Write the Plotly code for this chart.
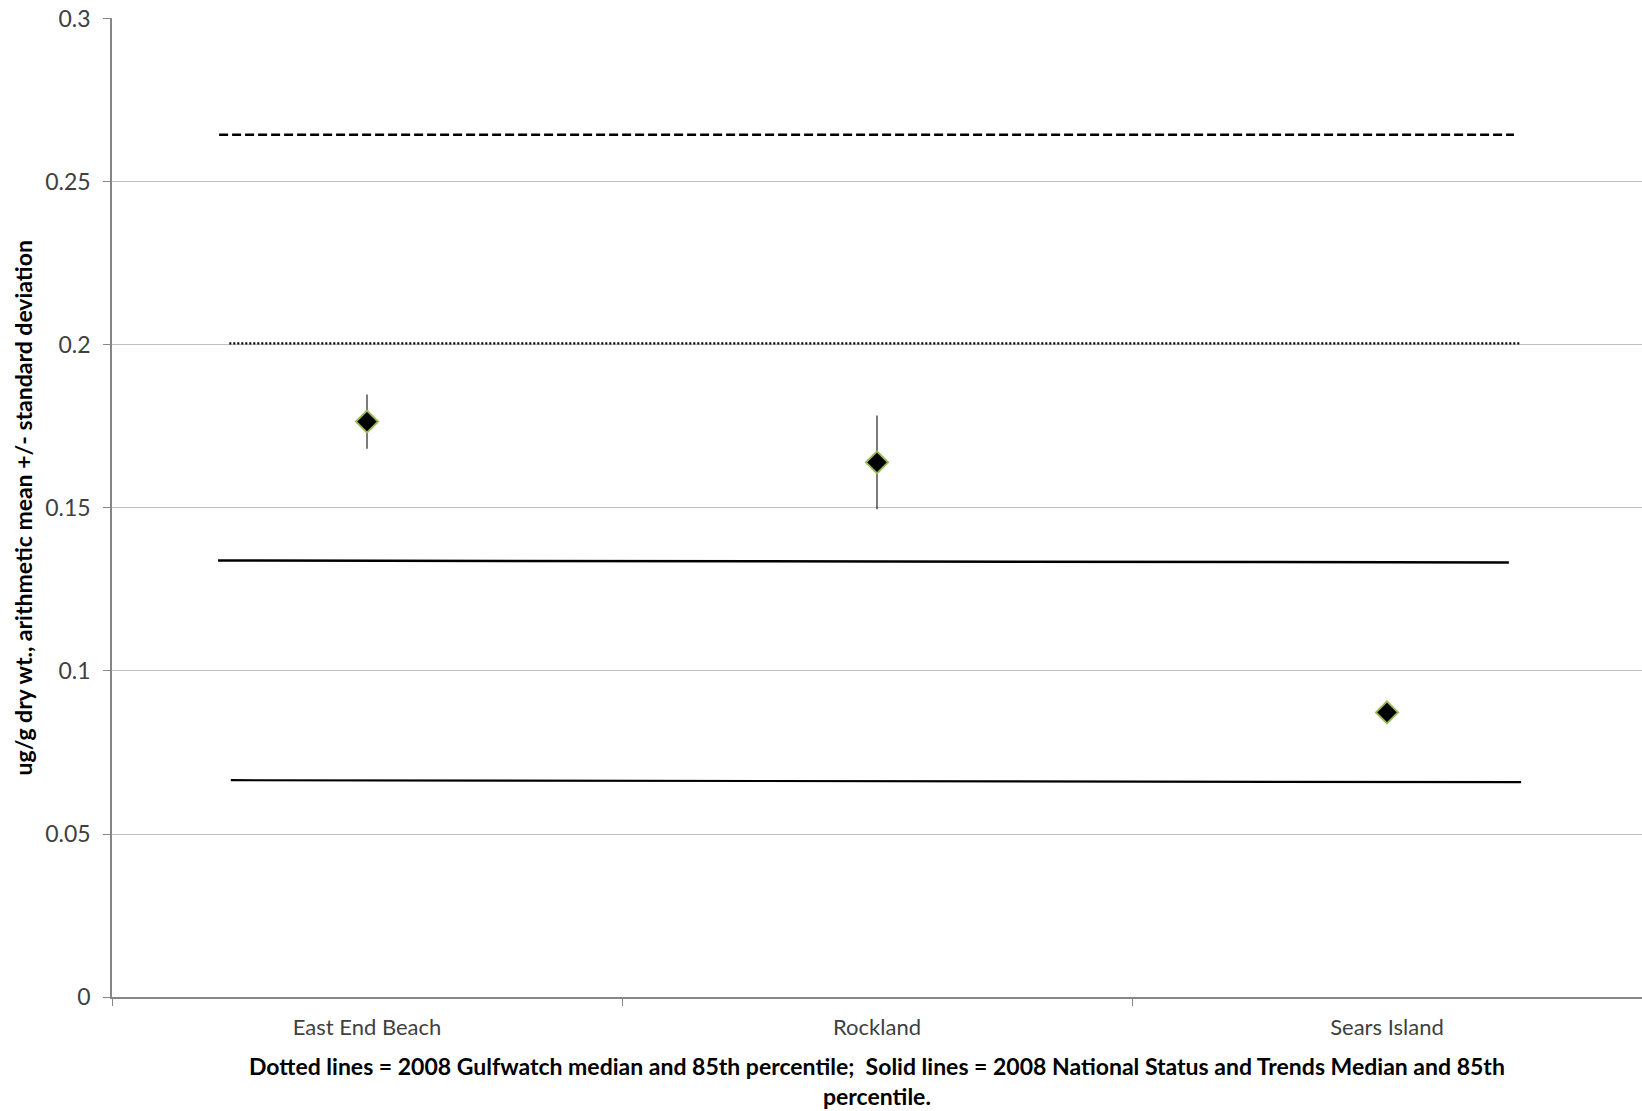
import plotly.graph_objects as go

# ---- data ----
sites = ["East End Beach", "Rockland", "Sears Island"]
means = [0.1765, 0.164, 0.0873]
sds = [0.0083, 0.0144, 0.0]

# reference lines (value at left end, value at right end)
ref_names = ["Gulfwatch 85th", "Gulfwatch median", "NS&T 85th", "NS&T median"]
ref_start = [0.2645, 0.2005, 0.1339, 0.0665]
ref_end = [0.2645, 0.2005, 0.1333, 0.0659]

y_ticks = [0, 0.05, 0.1, 0.15, 0.2, 0.25, 0.3]
y_ticktext = ["0", "0.05", "0.1", "0.15", "0.2", "0.25", "0.3"]

y_title = "ug/g dry wt., arithmetic mean +/- standard deviation"
caption = ("Dotted lines = 2008 Gulfwatch median and 85th percentile;  "
           "Solid lines = 2008 National Status and Trends Median and 85th<br>percentile.")

# ---- styles ----
ref_x0 = [-0.29, -0.27, -0.292, -0.267]
ref_x1 = [2.249, 2.262, 2.239, 2.263]
ref_dash = ["9px,4px", "2px,2px", "solid", "solid"]
ref_width = [2.5, 2.2, 2.5, 2.2]

font_family = "Lato, Liberation Sans, Arial, sans-serif"

fig = go.Figure()
fig.add_trace(go.Scatter(
    x=sites, y=means, mode="markers",
    marker=dict(symbol="diamond", size=17, color="black",
                line=dict(color="#9bbb59", width=2)),
    error_y=dict(type="data", array=sds, visible=True, color="#222222",
                 thickness=1.2, width=0),
    showlegend=False,
))

for v0, v1, x0, x1, d, w in zip(ref_start, ref_end, ref_x0, ref_x1, ref_dash, ref_width):
    fig.add_shape(type="line", xref="x", yref="y", x0=x0, x1=x1, y0=v0, y1=v1,
                  line=dict(color="black", width=w, dash=d), layer="above")

fig.update_layout(
    width=1642, height=1111,
    margin=dict(l=112, r=0, t=18, b=114),
    plot_bgcolor="white", paper_bgcolor="white",
    font=dict(family=font_family, color="#404040"),
    xaxis=dict(
        type="category", categoryorder="array", categoryarray=sites,
        range=[-0.5, 2.5], tickson="boundaries",
        ticks="outside", ticklen=7, tickcolor="#868686",
        showline=True, linecolor="#868686", linewidth=1.5,
        showgrid=False, tickfont=dict(size=22, color="#404040"),
        ticklabelstandoff=10,
    ),
    yaxis=dict(
        range=[0, 0.3003], tickvals=y_ticks, ticktext=y_ticktext,
        ticks="outside", ticklen=7, tickcolor="#868686",
        showline=True, linecolor="#868686", linewidth=1.5,
        showgrid=True, gridcolor="#bfbfbf", gridwidth=1,
        zeroline=False, tickfont=dict(size=23, color="#404040"),
        ticklabelstandoff=8,
    ),
)

fig.add_annotation(
    xref="paper", yref="paper", x=-0.0582, y=0.5, xanchor="center", yanchor="middle",
    textangle=-90, showarrow=False, text="<b>" + y_title + "</b>",
    font=dict(size=23, color="black", family=font_family),
)

fig.add_annotation(
    xref="paper", yref="paper", x=0.5, y=-0.0858, xanchor="center", yanchor="middle",
    showarrow=False, text="<b>" + caption + "</b>",
    font=dict(size=23, color="black", family=font_family), align="center",
)

fig.write_html("out.html", config={"displayModeBar": False},
               post_script="document.body.style.margin='0';")
